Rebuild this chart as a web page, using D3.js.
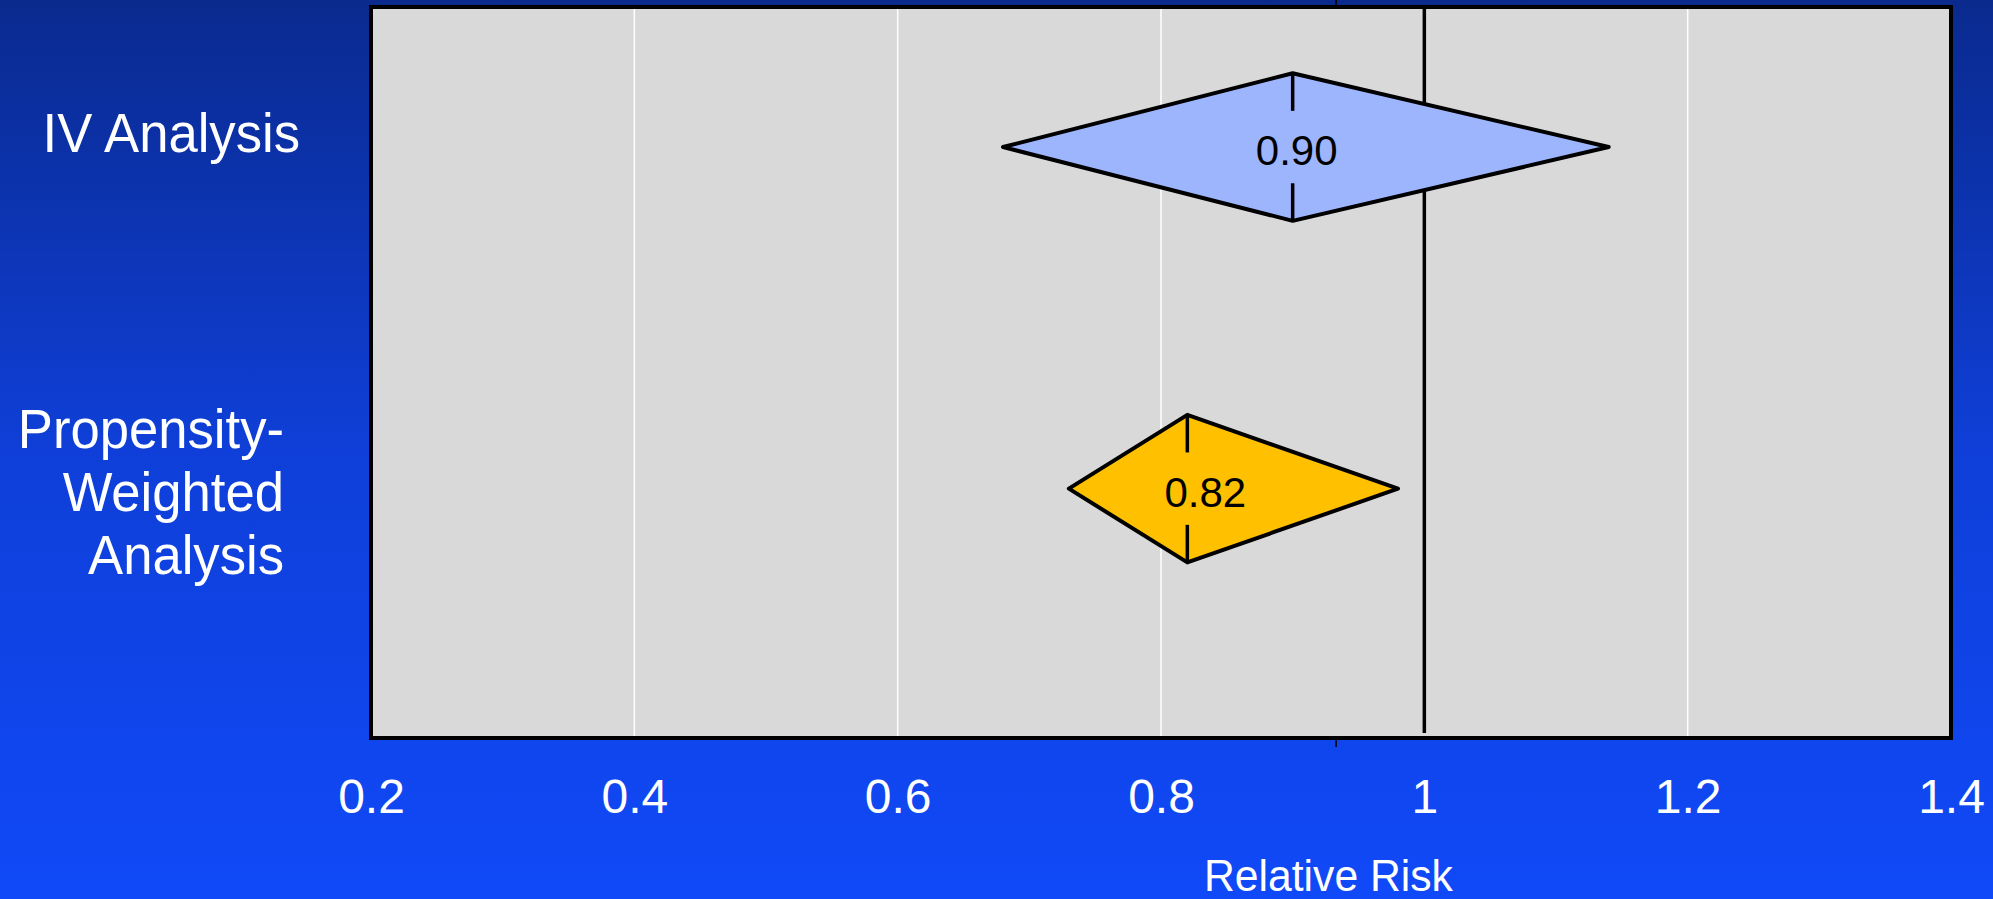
<!DOCTYPE html>
<html>
<head>
<meta charset="utf-8">
<script src="https://cdn.jsdelivr.net/npm/d3@7"></script>
<style>
  html, body { margin: 0; padding: 0; overflow: hidden; }
  svg { display: block; }
  text { font-family: "Liberation Sans", Arial, sans-serif; }
</style>
</head>
<body>
<svg id="chart" width="1993" height="899"></svg>
<script>
// Forest-style summary: relative risk with 95% CI for two analyses
const analyses   = ["IV Analysis", "Propensity-Weighted Analysis"];
const labelLines = [["IV Analysis"], ["Propensity-", "Weighted", "Analysis"]];
const rowPos     = [2, 1];              // vertical position of each row on the category axis
const estimates  = [0.90, 0.82];
const lowerCI    = [0.68, 0.73];
const upperCI    = [1.14, 0.98];
const estLabels  = ["0.90", "0.82"];
const fills      = ["#9db5fd", "#ffc000"];
const xTicks     = [0.2, 0.4, 0.6, 0.8, 1, 1.2, 1.4];
const refValue   = 1;
const axisCross  = 0.933;               // where the category axis crosses the value axis
const xTitle     = "Relative Risk";

// per-row text placement tweaks (pixels)
const catLabelDx = [-71, -87];
const catLabelDy = [5, 22];
const estLabelDx = [4, 18];

const W = 1993, H = 899;
const plot = { left: 371, right: 1951, top: 7, bottom: 738 };

const svg = d3.select("#chart");

// background gradient
const defs = svg.append("defs");
const grad = defs.append("linearGradient").attr("id", "bg")
  .attr("x1", 0).attr("y1", 0).attr("x2", 0).attr("y2", 1);
grad.append("stop").attr("offset", "0%").attr("stop-color", "#0a2a8e");
grad.append("stop").attr("offset", "50%").attr("stop-color", "#0f3fd8");
grad.append("stop").attr("offset", "100%").attr("stop-color", "#1049f8");
svg.append("rect").attr("width", W).attr("height", H).attr("fill", "url(#bg)");

const x = d3.scaleLinear().domain([0.2, 1.4]).range([plot.left, plot.right]);
const y = d3.scaleLinear().domain([0.27, 2.41]).range([plot.bottom, plot.top]);
const halfH = 0.216;   // half height of each diamond in category units

// plot area
svg.append("rect")
  .attr("x", plot.left).attr("y", plot.top)
  .attr("width", plot.right - plot.left).attr("height", plot.bottom - plot.top)
  .attr("fill", "#d9d9d9");

// vertical gridlines
svg.append("g").selectAll("line")
  .data(xTicks.filter(t => t > 0.2 && t < 1.4 && t !== refValue))
  .join("line")
  .attr("x1", d => x(d)).attr("x2", d => x(d))
  .attr("y1", plot.top).attr("y2", plot.bottom)
  .attr("stroke", "#ffffff").attr("stroke-width", 1.5);

// reference line at RR = 1
svg.append("line")
  .attr("x1", x(refValue)).attr("x2", x(refValue))
  .attr("y1", plot.top).attr("y2", plot.bottom - 5)
  .attr("stroke", "#000").attr("stroke-width", 3.5);

// category axis crossing line (outside the frame)
svg.append("line")
  .attr("x1", x(axisCross)).attr("x2", x(axisCross))
  .attr("y1", 0).attr("y2", plot.top)
  .attr("stroke", "#000").attr("stroke-width", 1.5);
svg.append("line")
  .attr("x1", x(axisCross)).attr("x2", x(axisCross))
  .attr("y1", plot.bottom).attr("y2", plot.bottom + 9)
  .attr("stroke", "#000").attr("stroke-width", 1.5);

// frame
svg.append("rect")
  .attr("x", plot.left).attr("y", plot.top)
  .attr("width", plot.right - plot.left).attr("height", plot.bottom - plot.top)
  .attr("fill", "none").attr("stroke", "#000").attr("stroke-width", 4);

// diamonds
const rows = analyses.map((name, i) => ({
  i, name, pos: rowPos[i], est: estimates[i], lo: lowerCI[i], hi: upperCI[i],
  label: estLabels[i], fill: fills[i]
}));

const g = svg.append("g").selectAll("g").data(rows).join("g");

g.append("path")
  .attr("d", d => {
    const cy = y(d.pos), top = y(d.pos + halfH), bot = y(d.pos - halfH);
    return `M${x(d.lo)},${cy}L${x(d.est)},${top}L${x(d.hi)},${cy}L${x(d.est)},${bot}Z`;
  })
  .attr("fill", d => d.fill)
  .attr("stroke", "#000").attr("stroke-width", 4)
  .attr("stroke-linejoin", "round");

// point-estimate marks at top and bottom of diamond
const tickLen = 0.11;
g.append("line")
  .attr("x1", d => x(d.est)).attr("x2", d => x(d.est))
  .attr("y1", d => y(d.pos + halfH)).attr("y2", d => y(d.pos + halfH - tickLen))
  .attr("stroke", "#000").attr("stroke-width", 3.5);
g.append("line")
  .attr("x1", d => x(d.est)).attr("x2", d => x(d.est))
  .attr("y1", d => y(d.pos - halfH)).attr("y2", d => y(d.pos - halfH + tickLen))
  .attr("stroke", "#000").attr("stroke-width", 3.5);

g.append("text")
  .attr("x", d => x(d.est) + estLabelDx[d.i])
  .attr("y", d => y(d.pos) + 18)
  .attr("text-anchor", "middle")
  .attr("font-size", 42)
  .attr("fill", "#000")
  .text(d => d.label);

// category labels
const catG = svg.append("g").selectAll("text").data(rows).join("text")
  .attr("text-anchor", "end")
  .attr("font-size", 56)
  .attr("fill", "#fff")
  .attr("transform", d => {
    const n = labelLines[d.i].length;
    const cy = y(d.pos) + catLabelDy[d.i] - (n - 1) * 63 / 2;
    return `translate(${plot.left + catLabelDx[d.i]},${cy}) scale(0.94,1)`;
  });
catG.selectAll("tspan")
  .data(d => labelLines[d.i])
  .join("tspan")
  .attr("x", 0)
  .attr("dy", (d, i) => i === 0 ? 0 : 63)
  .text(d => d);

// x axis tick labels
const xAxis = d3.axisBottom(x).tickValues(xTicks).tickSize(0).tickPadding(0)
  .tickFormat(d => d3.format("")(d));
const ax = svg.append("g").attr("transform", `translate(0,${plot.bottom})`).call(xAxis);
ax.select(".domain").remove();
ax.selectAll("text")
  .attr("font-size", 48)
  .attr("font-family", "Liberation Sans, Arial, sans-serif")
  .attr("fill", "#fff")
  .attr("dy", null)
  .attr("y", 75);

// axis title
svg.append("text")
  .attr("transform", `translate(${x(0.2) + (x(1.4) - x(0.2)) * 0.606},891) scale(0.97,1)`)
  .attr("text-anchor", "middle")
  .attr("font-size", 44)
  .attr("fill", "#fff")
  .text(xTitle);
</script>
</body>
</html>
